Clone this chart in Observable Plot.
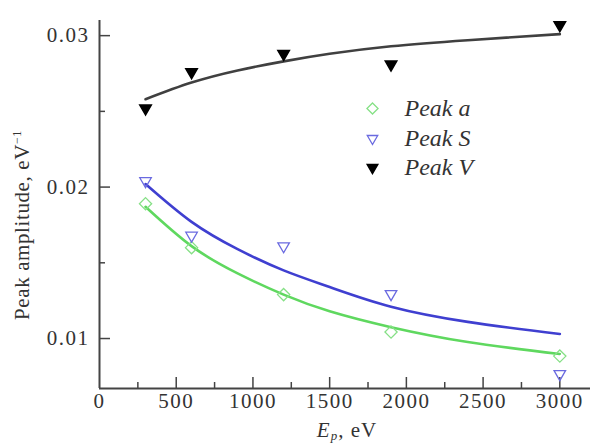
<!DOCTYPE html>
<html><head><meta charset="utf-8">
<script src="https://cdn.jsdelivr.net/npm/d3@7"></script>
<script src="https://cdn.jsdelivr.net/npm/@observablehq/plot@0.6"></script>
<style>
html,body{margin:0;padding:0;background:#fff;}
#chart{width:590px;height:446px;overflow:hidden;}
</style></head>
<body><div id="chart"></div>
<script>
// measured energies (eV)
const energies = [300, 600, 1200, 1900, 3000];
// peak amplitudes (eV^-1)
const peakA = [0.0189, 0.0160, 0.0129, 0.01043, 0.00884];
const peakS = [0.0204, 0.0168, 0.0161, 0.01294, 0.00766];
const peakV = [0.0252, 0.0276, 0.0288, 0.0281, 0.0307];
// fitted curves
const fitX = [300, 600, 900, 1200, 1500, 1900, 2400, 3000];
const fitA = [0.0187, 0.0161, 0.0143, 0.0129, 0.0118, 0.01075, 0.00977, 0.00898];
const fitS = [0.0202, 0.0177, 0.0159, 0.0145, 0.0134, 0.0121, 0.0111, 0.0103];
const fitV = [0.0258, 0.0269, 0.0277, 0.0283, 0.0288, 0.0293, 0.0297, 0.0301];
// ticks
const xTicks = [0, 500, 1000, 1500, 2000, 2500, 3000];
const xMinor = [250, 750, 1250, 1750, 2250, 2750];
const yTicks = [0.01, 0.02, 0.03];
const yMinor = [0.015, 0.025];
const seriesNames = ["Peak a", "Peak S", "Peak V"];

const W = 590, H = 446, mL = 99, mR = 0, mT = 20, mB = 58;
const fw = W - mL - mR, fh = H - mT - mB;
const yDomain = [0.0067, 0.031];

const colors = {"Peak a": "#5fd85f", "Peak S": "#3f3fd0", "Peak V": "#404040"};
const mColors = {"Peak a": "#86e086", "Peak S": "#6a6ae0", "Peak V": "#000"};

const pts = [];
energies.forEach((e, i) => {
  pts.push({s: "Peak a", x: e, y: peakA[i]});
  pts.push({s: "Peak S", x: e, y: peakS[i]});
  pts.push({s: "Peak V", x: e, y: peakV[i]});
});
const fits = [];
fitX.forEach((e, i) => {
  fits.push({s: "Peak a", x: e, y: fitA[i]});
  fits.push({s: "Peak S", x: e, y: fitS[i]});
  fits.push({s: "Peak V", x: e, y: fitV[i]});
});
const ptsA = pts.filter(d => d.s === "Peak a");
const ptsS = pts.filter(d => d.s === "Peak S");
const ptsV = pts.filter(d => d.s === "Peak V");

const font = "'Liberation Serif', 'DejaVu Serif', serif";
const legDy = [88, 118, 147];

const plot = Plot.plot({
  width: W, height: H,
  marginLeft: mL, marginRight: mR, marginTop: mT, marginBottom: mB,
  style: {fontFamily: font, fontSize: "21px", background: "#fff", color: "#333"},
  x: {domain: [0, 3200]},
  y: {domain: yDomain},
  marks: [
    // axes lines
    Plot.ruleX([0], {stroke: "#444", strokeWidth: 2}),
    Plot.ruleY([yDomain[0]], {stroke: "#444", strokeWidth: 2}),
    // inward ticks
    Plot.ruleX(xTicks.slice(1), {stroke: "#444", strokeWidth: 1.5, insetTop: fh - 11}),
    Plot.ruleX(xMinor, {stroke: "#444", strokeWidth: 1.5, insetTop: fh - 6}),
    Plot.ruleY(yTicks, {stroke: "#444", strokeWidth: 1.5, insetRight: fw - 11}),
    Plot.ruleY(yMinor, {stroke: "#444", strokeWidth: 1.5, insetRight: fw - 6}),
    Plot.axisX(xTicks, {tickSize: 0, tickPadding: 5, fontSize: 21, label: null, fill: "#333", tickFormat: d => String(d)}),
    Plot.axisY(yTicks, {tickSize: 0, tickPadding: 10, fontSize: 21, label: null, fill: "#333", tickFormat: d => d.toFixed(2)}),
    // fitted curves
    Plot.line(fits, {x: "x", y: "y", z: "s", stroke: d => colors[d.s], strokeWidth: 2.6, curve: "natural"}),
    // data points
    Plot.dot(ptsA, {x: "x", y: "y", symbol: "diamond2", r: 5.5, stroke: mColors["Peak a"], strokeWidth: 1.3, fill: "none"}),
    Plot.dot(ptsS, {x: "x", y: "y", symbol: "triangle2", rotate: 180, r: 5.5, stroke: mColors["Peak S"], strokeWidth: 1.3, fill: "none"}),
    Plot.dot(ptsV, {x: "x", y: "y", symbol: "triangle2", rotate: 180, r: 5.5, fill: "#000", stroke: "#000"}),
    // legend
    Plot.dot([seriesNames[0]], {frameAnchor: "top-left", dx: 273, dy: legDy[0], symbol: "diamond2", r: 5, stroke: mColors["Peak a"], strokeWidth: 1.3, fill: "none"}),
    Plot.dot([seriesNames[1]], {frameAnchor: "top-left", dx: 273, dy: legDy[1], symbol: "triangle2", rotate: 180, r: 5, stroke: mColors["Peak S"], strokeWidth: 1.3, fill: "none"}),
    Plot.dot([seriesNames[2]], {frameAnchor: "top-left", dx: 273, dy: legDy[2], symbol: "triangle2", rotate: 180, r: 5, fill: "#000", stroke: "#000"}),
    ...seriesNames.map((s, i) => Plot.text([s], {frameAnchor: "top-left", lineAnchor: "middle", dx: 305, dy: legDy[i], text: d => d, fontSize: 24, fontStyle: "italic", textAnchor: "start", fill: "#333"}))
  ]
});
document.getElementById("chart").appendChild(plot);

const svg = d3.select(plot.tagName.toLowerCase() === "svg" ? plot : plot.querySelector("svg"));
// widen glyph spacing to match the reference's stretched type
svg.selectAll("g[aria-label='x-axis tick label'] text, g[aria-label='y-axis tick label'] text")
  .attr("letter-spacing", "1.5px");

// axis titles with super/subscripts
const yl = svg.append("text")
  .attr("transform", "translate(29,225) rotate(-90)")
  .attr("text-anchor", "middle")
  .attr("font-family", font).attr("font-size", 21).attr("letter-spacing", "0.6px").attr("fill", "#333");
yl.append("tspan").text("Peak amplitude, eV");
yl.append("tspan").attr("dy", -8).attr("font-size", 12).text("−1");

const xl = svg.append("text")
  .attr("x", 347).attr("y", 437)
  .attr("text-anchor", "middle")
  .attr("font-family", font).attr("font-size", 21).attr("letter-spacing", "1px").attr("fill", "#333");
xl.append("tspan").attr("font-style", "italic").text("E");
xl.append("tspan").attr("font-style", "italic").attr("font-size", 13).attr("dy", 3).text("p");
xl.append("tspan").attr("dy", -3).text(", eV");
</script></body></html>
